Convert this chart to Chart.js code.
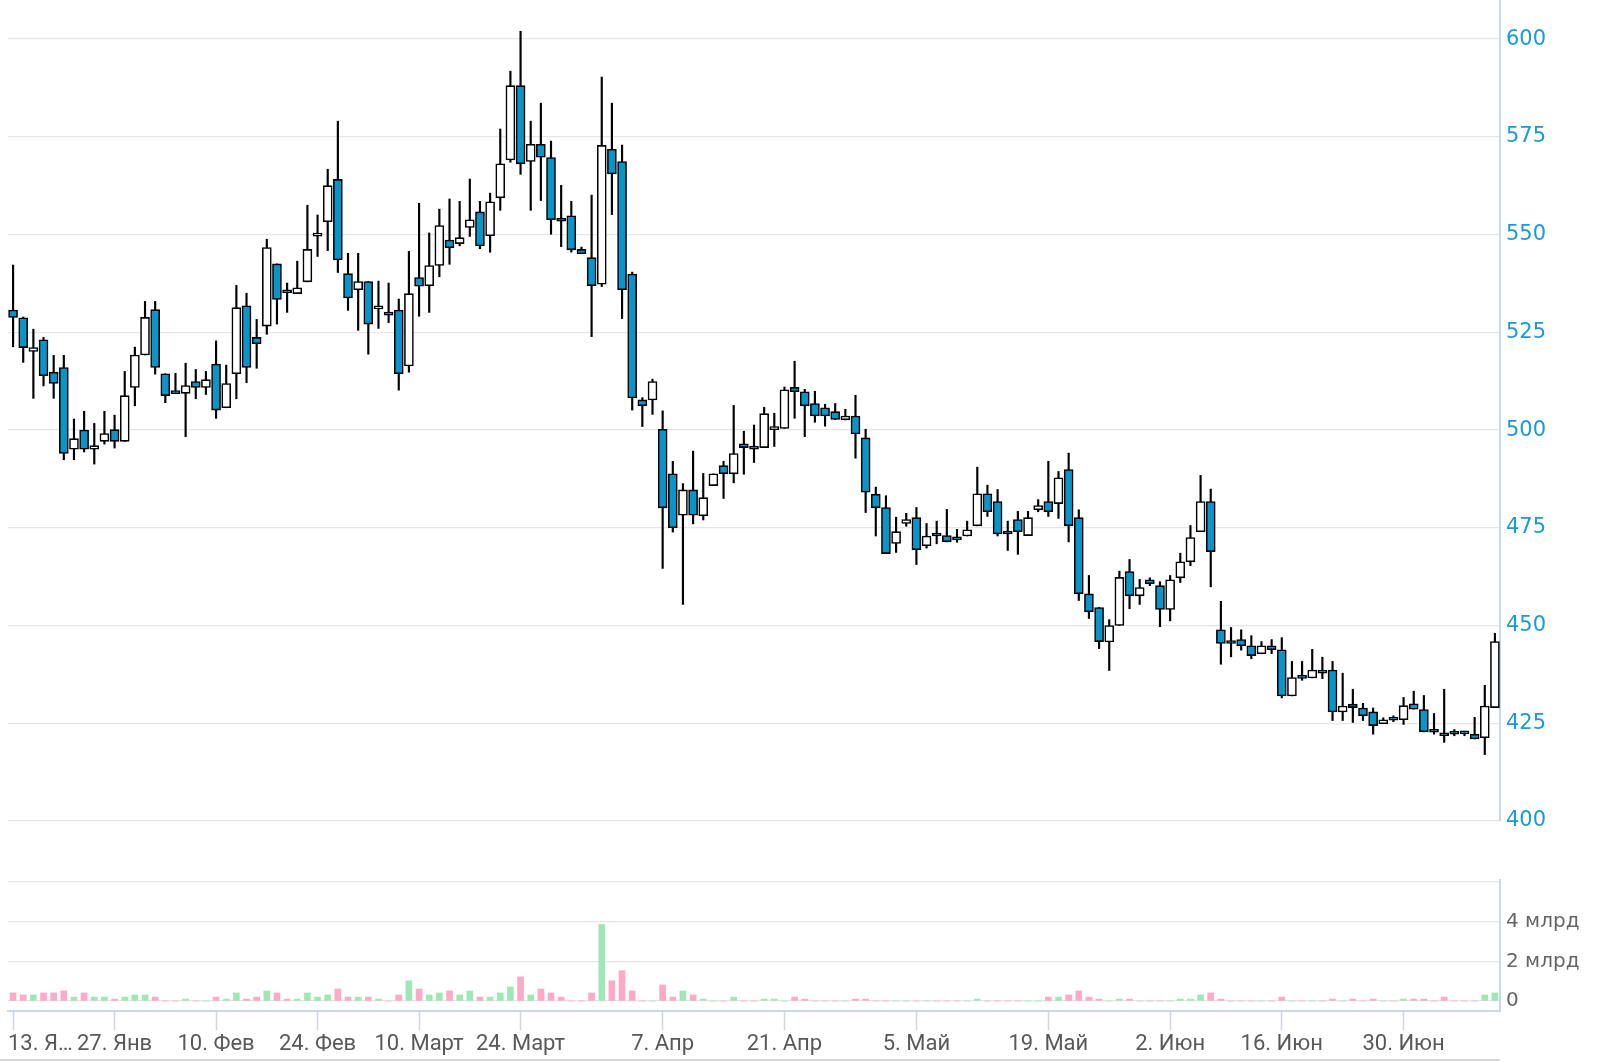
<!DOCTYPE html>
<html>
<head>
<meta charset="utf-8">
<script src="https://cdn.jsdelivr.net/npm/chart.js@4.4.1/dist/chart.umd.min.js"></script>
<style>
  html, body { margin: 0; padding: 0; background: #ffffff; }
  body { width: 1597px; height: 1062px; position: relative; overflow: hidden; }
  #priceCanvas { position: absolute; left: 0; top: 0; }
  #volCanvas { position: absolute; left: 0; top: 870px; }
  #nav { position: absolute; left: 0; top: 1059px; width: 1500px; height: 0; border-top: 2px solid #d8d8d8; }
</style>
</head>
<body>
<canvas id="priceCanvas" width="1597" height="840"></canvas>
<canvas id="volCanvas" width="1597" height="192"></canvas>
<div id="nav"></div>
<script>
// ---------- DATA ----------
const opens = [
  530.7,528.7,520.1,523.1,514.8,516.0,495.1,500.0,495.1,497.1,
  500.1,497.1,510.9,519.2,530.8,514.4,509.6,509.4,512.4,510.9,
  516.9,505.7,514.4,531.8,523.7,526.6,542.5,535.3,534.9,537.9,
  549.6,553.3,564.1,540.0,535.9,538.0,531.0,529.6,530.7,516.4,
  539.0,536.9,542.1,548.6,547.7,551.8,555.8,549.7,559.4,569.1,
  588.1,568.7,573.1,569.7,553.7,554.8,546.2,544.1,537.3,571.8,
  568.7,539.9,507.7,507.7,500.2,488.8,478.2,484.7,478.1,485.8,
  490.9,488.8,496.5,495.4,495.5,500.1,500.4,510.9,509.8,506.8,
  505.7,504.7,502.6,503.6,498.0,483.6,480.2,471.0,476.1,477.6,
  470.4,473.1,473.0,472.1,472.9,475.5,483.7,481.7,473.6,477.1,
  473.0,479.6,481.7,481.2,489.9,477.6,458.1,454.6,445.8,450.0,
  463.8,457.6,461.7,460.2,454.1,462.2,466.3,474.0,481.7,448.9,
  445.9,446.4,444.8,442.8,444.8,443.8,432.0,436.7,436.6,438.6,
  438.6,427.9,429.9,428.9,427.9,424.9,426.0,425.9,430.0,428.5,
  422.9,422.3,422.4,422.8,422.2,421.3,429.0
];
const highs = [
  542.2,528.9,525.8,523.7,519.1,519.1,502.8,504.8,501.7,504.8,
  503.8,515.0,521.2,532.9,532.9,514.4,514.5,517.1,515.5,515.0,
  522.8,516.6,537.0,535.0,528.3,548.8,542.5,537.6,543.2,557.5,
  555.0,566.7,579.0,545.2,545.2,538.0,538.1,537.6,533.5,545.7,
  558.0,550.4,556.5,559.1,558.5,564.2,558.5,560.6,577.0,591.8,
  602.0,579.0,583.6,573.9,562.6,558.5,546.8,560.1,590.3,583.6,
  572.9,540.4,508.3,513.0,504.9,492.0,486.3,494.6,488.9,488.8,
  492.0,506.3,499.7,501.3,505.8,504.3,511.0,517.6,510.4,509.9,
  506.6,506.8,505.3,508.9,500.2,485.4,483.2,477.7,478.7,480.2,
  476.1,476.7,479.7,474.6,476.7,490.5,485.9,484.8,476.7,479.2,
  479.2,482.2,492.0,489.4,494.1,479.6,462.8,454.6,451.5,463.9,
  466.9,461.8,462.2,461.2,462.8,468.5,475.6,488.4,484.9,456.2,
  449.5,448.9,447.4,445.9,446.4,446.9,440.8,440.8,443.9,441.9,
  440.8,437.8,433.7,430.1,428.9,426.4,426.9,431.6,433.2,432.1,
  427.5,433.7,423.4,422.8,426.5,434.7,448.0
];
const lows = [
  521.3,517.3,508.1,511.3,508.1,492.4,492.4,494.4,491.3,496.4,
  495.4,497.1,506.2,519.2,514.3,507.0,509.3,498.3,508.0,509.1,
  503.0,505.7,508.0,512.1,515.8,524.5,527.1,530.1,534.9,537.9,
  544.4,545.9,540.3,530.6,525.5,519.4,526.0,527.5,510.2,514.8,
  529.1,530.1,539.2,542.4,547.1,549.5,546.4,545.5,556.2,568.5,
  565.4,556.2,558.7,550.1,546.9,545.5,545.1,523.9,536.7,555.1,
  528.5,505.1,500.9,504.0,464.6,473.9,455.4,476.0,477.0,485.8,
  482.5,486.5,488.7,491.7,495.5,495.8,500.4,503.0,498.3,502.0,
  501.0,502.7,502.6,492.8,478.9,472.9,468.4,468.7,475.4,465.6,
  469.8,470.9,471.4,471.3,472.9,475.5,477.9,472.9,469.2,468.2,
  473.0,479.1,477.9,477.4,471.4,456.4,451.8,444.1,438.5,450.0,
  454.3,455.4,460.2,449.7,451.2,461.0,465.3,474.0,459.9,440.1,
  442.0,443.7,441.5,442.8,442.8,431.5,432.0,436.0,436.6,436.4,
  425.7,425.7,425.2,425.7,422.2,424.9,425.4,424.7,428.6,422.8,
  422.2,420.1,421.8,421.8,421.0,417.0,429.0
];
const closes = [
  528.8,521.1,521.1,513.9,511.9,494.0,497.8,495.1,496.0,499.1,
  497.1,508.8,519.2,528.8,516.0,508.8,509.3,511.4,510.9,512.9,
  505.1,511.9,531.3,516.0,522.1,546.7,533.4,535.1,536.4,546.2,
  549.8,562.5,543.5,533.8,538.0,527.1,531.2,529.4,514.4,534.9,
  536.8,542.1,552.3,546.6,549.2,553.8,547.1,558.4,568.1,588.1,
  568.1,573.1,569.8,553.8,553.4,546.1,545.1,536.9,572.8,565.5,
  535.9,508.2,506.2,512.4,480.1,475.0,484.7,478.2,482.7,488.8,
  488.8,494.0,495.5,495.1,504.2,500.4,510.3,509.8,506.2,503.6,
  503.6,502.7,503.6,499.0,484.1,480.1,468.4,474.0,477.1,469.4,
  472.9,472.9,471.4,471.9,474.5,483.7,479.1,473.4,473.4,474.0,
  477.6,480.7,479.1,487.8,475.5,458.1,453.5,445.9,450.0,462.3,
  457.6,459.7,460.7,454.1,461.7,466.3,472.5,481.7,468.9,445.4,
  445.4,444.8,442.3,444.8,443.8,432.0,436.7,436.5,438.6,437.8,
  427.9,429.4,429.0,426.9,424.4,425.9,425.8,429.5,428.6,422.8,
  422.7,421.8,422.2,422.3,421.0,429.4,445.9
];
// volume, billions
const volumes = [
  0.41,0.31,0.31,0.41,0.41,0.51,0.20,0.41,0.20,0.20,
  0.10,0.20,0.31,0.31,0.20,0,0,0.10,0,0,
  0.20,0.10,0.41,0.10,0.20,0.51,0.41,0.10,0.10,0.41,
  0.20,0.31,0.61,0.20,0.20,0.20,0.10,0,0.31,1.02,
  0.61,0.31,0.41,0.51,0.31,0.51,0.20,0.20,0.41,0.71,
  1.22,0.31,0.61,0.41,0.20,0,0,0.41,3.86,1.02,
  1.53,0.51,0,0,0.81,0.20,0.51,0.31,0.10,0,
  0,0.20,0,0,0.10,0.10,0,0.20,0.10,0,
  0,0,0,0.10,0.10,0,0,0,0,0,
  0,0,0,0,0,0.10,0,0,0,0,
  0,0,0.20,0.20,0.31,0.51,0.20,0.10,0,0.10,
  0.10,0,0,0,0,0.10,0.10,0.31,0.41,0.10,
  0,0,0,0,0,0.20,0,0,0,0,
  0.10,0,0.10,0,0.10,0,0,0.10,0.10,0.10,
  0,0.20,0,0,0,0.31,0.41
];
const categories = opens.map((_, i) => 'p' + i);
const tickIndex = [0, 10, 20, 30, 40, 50, 64, 76, 89, 102, 114, 125, 137];
const tickText = ['          13. Я…', '27. Янв', '10. Фев', '24. Фев', '10. Март', '24. Март',
                  '7. Апр', '21. Апр', '5. Май', '19. Май', '2. Июн', '16. Июн', '30. Июн'];
const priceTicks = [400, 425, 450, 475, 500, 525, 550, 575, 600];
const volTicks = [0, 2, 4, 6];

// ---------- STYLE ----------
const DOWN = '#0a94c8', UP = '#ffffff';
const VOL_UP = '#9fe8b5', VOL_DOWN = '#fda9c8';
const AXIS = '#ccd6eb', GRID = '#e6e6e6';
const isUp = opens.map((o, i) => closes[i] >= o);

const fixY = (s) => { s.width = 97; s.paddingTop = 0; s.paddingBottom = 0; };

new Chart(document.getElementById('priceCanvas'), {
  type: 'bar',
  data: {
    labels: categories,
    datasets: [
      {
        label: 'wick',
        data: highs.map((h, i) => [lows[i], h]),
        backgroundColor: '#000000',
        borderWidth: 0,
        barThickness: 1.5,
        grouped: false,
        order: 2
      },
      {
        label: 'body',
        data: opens.map((o, i) => [o, closes[i]]),
        backgroundColor: isUp.map(u => u ? UP : DOWN),
        borderColor: '#000000',
        borderWidth: 1.6,
        borderSkipped: false,
        barThickness: 9,
        minBarLength: 3,
        grouped: false,
        order: 1
      }
    ]
  },
  options: {
    responsive: false,
    animation: false,
    maintainAspectRatio: false,
    layout: { padding: { left: 8, right: 0, top: 0, bottom: 19 } },
    plugins: { legend: { display: false }, tooltip: { enabled: false } },
    scales: {
      x: { display: false, offset: true },
      y: {
        position: 'right',
        min: 400, max: 610,
        afterBuildTicks: (s) => { s.ticks = priceTicks.map(v => ({ value: v })); },
        afterFit: fixY,
        grid: { color: GRID, lineWidth: 1.3, drawTicks: false },
        border: { color: AXIS, width: 2 },
        ticks: {
          color: '#1a9ad6',
          padding: 6,
          font: { family: 'DejaVu Sans', size: 21 }
        }
      }
    }
  }
});

new Chart(document.getElementById('volCanvas'), {
  type: 'bar',
  data: {
    labels: categories,
    datasets: [{
      label: 'volume',
      data: volumes.map(v => v * 1e9),
      backgroundColor: isUp.map(u => u ? VOL_UP : VOL_DOWN),
      borderWidth: 0,
      barThickness: 6
    }]
  },
  options: {
    responsive: false,
    animation: false,
    maintainAspectRatio: false,
    layout: { padding: { left: 8, right: 0, top: 10, bottom: 0 } },
    plugins: { legend: { display: false }, tooltip: { enabled: false } },
    scales: {
      x: {
        offset: true,
        afterBuildTicks: (s) => { s.ticks = tickIndex.map(v => ({ value: v })); },
        afterFit: (s) => { s.height = 51; s.paddingLeft = 0; s.paddingRight = 0; },
        grid: { offset: false, drawOnChartArea: false, drawTicks: true, tickLength: 19, tickColor: AXIS, tickWidth: 1.5, color: AXIS },
        border: { color: AXIS, width: 2 },
        ticks: {
          autoSkip: false,
          maxRotation: 0,
          padding: 1,
          color: '#595959',
          font: { family: 'Roboto', size: 22 },
          callback: (v, i) => tickText[i]
        }
      },
      y: {
        position: 'right',
        min: -0.5e9, max: 6.1e9,
        afterBuildTicks: (s) => { s.ticks = volTicks.map(v => ({ value: v * 1e9 })); },
        afterFit: fixY,
        grid: { color: GRID, lineWidth: 1.3, drawTicks: false },
        border: { color: AXIS, width: 2 },
        ticks: {
          color: '#666666',
          padding: 6,
          font: { family: 'DejaVu Sans', size: 20 },
          callback: (v) => v === 0 ? '0' : (v >= 6e9 ? '' : (v / 1e9) + ' млрд')
        }
      }
    }
  }
});
</script>
</body>
</html>
